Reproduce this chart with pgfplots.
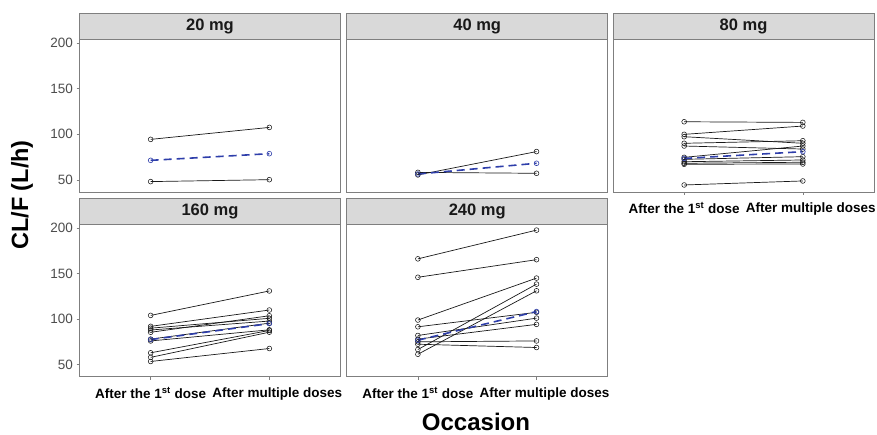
\documentclass[border=0pt]{standalone}
\usepackage{pgfplots}
\pgfplotsset{compat=1.18}
\usepackage{fontspec}
\setmainfont{Liberation Sans}
\definecolor{bordercol}{RGB}{127,127,127}
\definecolor{stripfill}{RGB}{217,217,217}
\definecolor{meanblue}{RGB}{46,62,170}
\definecolor{ticklab}{RGB}{77,77,77}
\pgfplotsset{
  panel/.style={
    scale only axis, width=261pt, height=152.5pt,
    xmin=0.4, xmax=2.6, ymin=36.8, ymax=204,
    axis line style={bordercol, line width=0.8pt},
    tick style={bordercol, line width=0.6pt},
    major tick length=3pt, tick align=outside,
    xtick pos=bottom, ytick pos=left,
    xtick=\empty, ytick=\empty,
    /pgf/number format/assume math mode=true,
    yticklabel style={font=\fontsize{13.5}{15}\selectfont, text=ticklab},
    xticklabel style={font=\bfseries\fontsize{13.5}{16}\selectfont, text=black, yshift=-4pt},
    every axis title/.style={at={(0.5,1)}, anchor=south, yshift=-0.4pt, draw=bordercol, line width=0.8pt,
      fill=stripfill, minimum width=261pt, minimum height=26pt, inner sep=0pt,
      font=\bfseries\fontsize{16.5}{19}\selectfont, text=black!90},
  },
  withy/.style={ytick={50,100,150,200}},
  withx/.style={xtick={1,2},
    xticklabels={{After the 1\textsuperscript{st} dose\hspace{10pt}},{\hspace{16pt}After multiple doses}}},
  subj/.style={black!90, line width=0.7pt, mark=o, mark size=2.4pt, mark options={solid, line width=0.55pt}},
  avg/.style={meanblue, line width=1.6pt, dash pattern=on 8pt off 5pt, mark=o, mark size=2.4pt, mark options={solid, line width=0.6pt}},
}
\begin{document}
\begin{tikzpicture}
\useasboundingbox (0,0) rectangle (877pt,435pt);
% 20 mg
\begin{axis}[panel, withy, at={(79.5pt,243pt)}, anchor=south west, title={20 mg}]
\addplot[subj] coordinates {(1,94.5) (2,107.6)};
\addplot[subj] coordinates {(1,48.2) (2,50.3)};
\addplot[avg] coordinates {(1,71.5) (2,78.8)};
\end{axis}
% 40 mg
\begin{axis}[panel, at={(346.7pt,243pt)}, anchor=south west, title={40 mg}]
\addplot[subj] coordinates {(1,55.5) (2,81.1)};
\addplot[subj] coordinates {(1,58.3) (2,57.3)};
\addplot[avg] coordinates {(1,56.5) (2,68.3)};
\end{axis}
% 80 mg
\begin{axis}[panel, withx, at={(613pt,243pt)}, anchor=south west, title={80 mg}]
\addplot[subj] coordinates {(1,113.8) (2,113.1)};
\addplot[subj] coordinates {(1,100.0) (2,109.1)};
\addplot[subj] coordinates {(1,97.4) (2,90.2)};
\addplot[subj] coordinates {(1,90.2) (2,93.0)};
\addplot[subj] coordinates {(1,87.2) (2,83.9)};
\addplot[subj] coordinates {(1,74.8) (2,87.2)};
\addplot[subj] coordinates {(1,72.6) (2,75.5)};
\addplot[subj] coordinates {(1,70.0) (2,71.9)};
\addplot[subj] coordinates {(1,68.3) (2,69.4)};
\addplot[subj] coordinates {(1,67.2) (2,67.5)};
\addplot[subj] coordinates {(1,44.5) (2,48.9)};
\addplot[avg] coordinates {(1,73.6) (2,81.0)};
\end{axis}
% 160 mg
\begin{axis}[panel, withy, withx, at={(79.5pt,58.3pt)}, anchor=south west, title={160 mg}]
\addplot[subj] coordinates {(1,104.0) (2,130.8)};
\addplot[subj] coordinates {(1,92.0) (2,109.9)};
\addplot[subj] coordinates {(1,90.0) (2,100.8)};
\addplot[subj] coordinates {(1,88.0) (2,97.8)};
\addplot[subj] coordinates {(1,85.5) (2,103.6)};
\addplot[subj] coordinates {(1,78.0) (2,95.5)};
\addplot[subj] coordinates {(1,76.0) (2,88.2)};
\addplot[subj] coordinates {(1,63.0) (2,87.5)};
\addplot[subj] coordinates {(1,58.0) (2,85.6)};
\addplot[subj] coordinates {(1,53.5) (2,67.7)};
\addplot[avg] coordinates {(1,77.5) (2,95.0)};
\end{axis}
% 240 mg
\begin{axis}[panel, withx, at={(346.7pt,58.3pt)}, anchor=south west, title={240 mg}]
\addplot[subj] coordinates {(1,166.0) (2,197.5)};
\addplot[subj] coordinates {(1,145.8) (2,165.1)};
\addplot[subj] coordinates {(1,98.9) (2,144.9)};
\addplot[subj] coordinates {(1,91.5) (2,107.4)};
\addplot[subj] coordinates {(1,82.0) (2,101.0)};
\addplot[subj] coordinates {(1,78.0) (2,94.2)};
\addplot[subj] coordinates {(1,75.0) (2,76.0)};
\addplot[subj] coordinates {(1,72.4) (2,68.8)};
\addplot[subj] coordinates {(1,66.6) (2,138.3)};
\addplot[subj] coordinates {(1,61.4) (2,131.0)};
\addplot[avg] coordinates {(1,76.8) (2,108.2)};
\end{axis}
\node[rotate=90, font=\bfseries\fontsize{23.5}{27}\selectfont] at (22pt,240pt) {CL/F (L/h)};
\node[anchor=base, inner sep=0pt, font=\bfseries\fontsize{24}{28}\selectfont] at (476pt,4.5pt) {Occasion};
\end{tikzpicture}
\end{document}
